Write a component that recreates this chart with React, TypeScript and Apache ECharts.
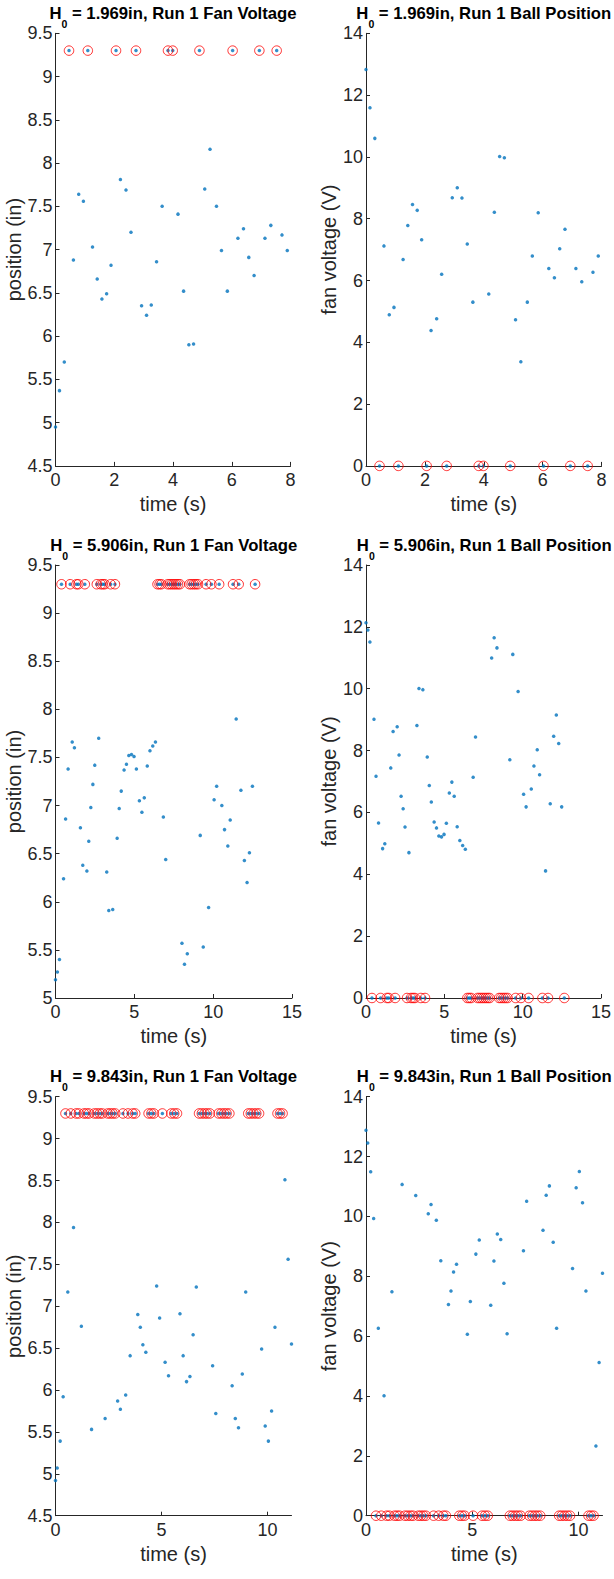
import React, { useEffect, useRef } from "react";
import * as echarts from "echarts";

// ---------------- DATA ----------------
// Position value recorded while the fan is off (circled in red)
const SAT_POSITION = 9.3;

// Row 1: H0 = 1.969 in
const time1 = [0, 0.135, 0.3, 0.46, 0.61, 0.79, 0.95, 1.1, 1.26, 1.42, 1.58, 1.74, 1.89, 2.06, 2.21, 2.4, 2.57, 2.74, 2.93, 3.1, 3.26, 3.44, 3.63, 3.83, 3.99, 4.17, 4.36, 4.54, 4.7, 4.9, 5.08, 5.26, 5.48, 5.65, 5.85, 6.03, 6.21, 6.4, 6.58, 6.76, 6.94, 7.13, 7.33, 7.53, 7.71, 7.89];
const position1 = [4.95, 5.37, 5.7, 9.3, 6.88, 7.64, 7.56, 9.3, 7.03, 6.66, 6.43, 6.49, 6.82, 9.3, 7.81, 7.69, 7.2, 9.3, 6.35, 6.24, 6.36, 6.86, 7.5, 9.3, 9.3, 7.41, 6.52, 5.9, 5.91, 9.3, 7.7, 8.16, 7.5, 6.99, 6.52, 9.3, 7.13, 7.24, 6.91, 6.7, 9.3, 7.13, 7.28, 9.3, 7.17, 6.99];
const voltage1 = [12.83, 11.59, 10.6, 0, 7.12, 4.89, 5.13, 0, 6.68, 7.78, 8.46, 8.27, 7.32, 0, 4.38, 4.76, 6.2, 0, 8.68, 9.0, 8.67, 7.18, 5.3, 0, 0, 5.56, 8.21, 10.01, 9.97, 0, 4.73, 3.37, 5.3, 6.79, 8.19, 0, 6.39, 6.09, 7.03, 7.66, 0, 6.39, 5.96, 0, 6.27, 6.79];

// Row 2: H0 = 5.906 in
const time2 = [0, 0.12, 0.25, 0.38, 0.51, 0.64, 0.8, 0.93, 1.06, 1.2, 1.33, 1.45, 1.58, 1.73, 1.86, 1.99, 2.11, 2.24, 2.37, 2.49, 2.62, 2.74, 2.87, 3.0, 3.12, 3.25, 3.38, 3.5, 3.63, 3.77, 3.91, 4.04, 4.17, 4.35, 4.5, 4.65, 4.82, 4.98, 5.13, 5.32, 5.48, 5.63, 5.82, 5.99, 6.17, 6.34, 6.47, 6.6, 6.72, 6.84, 6.99, 7.12, 7.25, 7.38, 7.51, 7.64, 7.77, 7.89, 8.02, 8.18, 8.36, 8.5, 8.63, 8.77, 8.9, 9.04, 9.18, 9.37, 9.55, 9.71, 9.89, 10.06, 10.22, 10.38, 10.55, 10.72, 10.93, 11.08, 11.26, 11.46, 11.62, 11.76, 11.98, 12.15, 12.3, 12.49, 12.66];
const position2 = [5.19, 5.27, 5.4, 9.3, 6.24, 6.86, 7.38, 9.3, 7.66, 7.6, 9.3, 9.3, 6.77, 6.38, 9.3, 6.32, 6.63, 6.98, 7.22, 7.42, 9.3, 7.7, 9.3, 9.3, 9.3, 6.31, 5.91, 9.3, 5.92, 9.3, 6.66, 6.97, 7.15, 7.37, 7.43, 7.52, 7.53, 7.51, 7.38, 7.05, 6.93, 7.08, 7.41, 7.57, 7.62, 7.66, 9.3, 9.3, 9.3, 6.88, 6.44, 9.3, 9.3, 9.3, 9.3, 9.3, 9.3, 9.3, 5.57, 5.35, 5.46, 9.3, 9.3, 9.3, 9.3, 9.3, 6.69, 5.53, 9.3, 5.94, 9.3, 7.06, 7.2, 9.3, 7.0, 6.75, 6.58, 6.85, 9.3, 7.9, 9.3, 7.16, 6.43, 6.2, 6.51, 7.2, 9.3];
const voltage2 = [12.13, 11.9, 11.51, 0, 9.01, 7.17, 5.66, 0, 4.83, 4.99, 0, 0, 7.44, 8.62, 0, 8.77, 7.86, 6.52, 6.12, 5.53, 0, 4.7, 0, 0, 0, 8.81, 10.01, 0, 9.97, 0, 7.79, 6.87, 6.34, 5.69, 5.5, 5.24, 5.21, 5.29, 5.65, 6.63, 6.98, 6.52, 5.54, 5.09, 4.93, 4.81, 0, 0, 0, 7.14, 8.44, 0, 0, 0, 0, 0, 0, 0, 10.99, 11.65, 11.32, 0, 0, 0, 0, 0, 7.7, 11.11, 0, 9.91, 0, 6.59, 6.18, 0, 6.76, 7.5, 8.03, 7.22, 0, 4.11, 0, 6.28, 8.46, 9.15, 8.23, 6.18, 0];

// Row 3: H0 = 9.843 in
const time3 = [0, 0.08, 0.22, 0.36, 0.47, 0.58, 0.72, 0.85, 0.97, 1.1, 1.22, 1.34, 1.46, 1.58, 1.7, 1.83, 1.96, 2.09, 2.21, 2.34, 2.46, 2.58, 2.7, 2.82, 2.93, 3.06, 3.18, 3.31, 3.42, 3.52, 3.64, 3.76, 3.88, 4.0, 4.12, 4.26, 4.39, 4.52, 4.64, 4.77, 4.91, 5.04, 5.17, 5.33, 5.46, 5.6, 5.73, 5.87, 6.02, 6.18, 6.34, 6.49, 6.64, 6.77, 6.9, 7.03, 7.15, 7.28, 7.41, 7.56, 7.69, 7.82, 7.95, 8.07, 8.2, 8.33, 8.48, 8.63, 8.81, 8.97, 9.09, 9.21, 9.34, 9.47, 9.6, 9.72, 9.89, 10.04, 10.19, 10.35, 10.47, 10.59, 10.71, 10.82, 10.97, 11.13];
const position3 = [4.92, 5.07, 5.39, 5.92, 9.3, 7.17, 9.3, 7.94, 9.3, 9.3, 6.76, 9.3, 9.3, 9.3, 5.53, 9.3, 9.3, 9.3, 9.3, 5.66, 9.3, 9.3, 9.3, 9.3, 5.87, 5.77, 9.3, 5.94, 9.3, 6.41, 9.3, 9.3, 6.9, 6.75, 6.54, 6.45, 9.3, 9.3, 9.3, 7.24, 6.86, 9.3, 6.33, 6.17, 9.3, 9.3, 9.3, 6.91, 6.41, 6.1, 6.16, 6.66, 7.23, 9.3, 9.3, 9.3, 9.3, 9.3, 6.29, 5.72, 9.3, 9.3, 9.3, 9.3, 9.3, 6.05, 5.66, 5.55, 6.19, 7.17, 9.3, 9.3, 9.3, 9.3, 9.3, 6.49, 5.57, 5.39, 5.75, 6.75, 9.3, 9.3, 9.3, 8.51, 7.56, 6.55];
const voltage3 = [12.88, 12.45, 11.49, 9.93, 0, 6.26, 0, 4.01, 0, 0, 7.48, 0, 0, 0, 11.07, 0, 0, 0, 0, 10.7, 0, 0, 0, 0, 10.09, 10.4, 0, 9.87, 0, 8.52, 0, 0, 7.06, 7.51, 8.14, 8.4, 0, 0, 0, 6.06, 7.16, 0, 8.74, 9.21, 0, 0, 0, 7.03, 8.51, 9.41, 9.23, 7.77, 6.08, 0, 0, 0, 0, 0, 8.85, 10.51, 0, 0, 0, 0, 0, 9.54, 10.71, 11.02, 9.14, 6.26, 0, 0, 0, 0, 0, 8.26, 10.96, 11.5, 10.46, 7.51, 0, 0, 0, 2.33, 5.12, 8.1];

const heights = ["1.969", "5.906", "9.843"];
const timeMax = [8, 15, 11.13];
const timeStep = [2, 5, 5];
const timeTicks = [[0, 2, 4, 6, 8], [0, 5, 10, 15], [0, 5, 10]];
const positionMin = [4.5, 5, 4.5];
const positionMax = 9.5;
const voltageMin = 0;
const voltageMax = 14;

// ---------------- STYLE / LAYOUT ----------------
const FONT = "'Liberation Sans', Arial, Helvetica, sans-serif";
const AX = "#262626";
const BLUE = "#0072BD";
const RED = "#FF0000";
const TICK_FS = 18;
const NAME_FS = 20;
const TITLE_FS = 16.7;

const rowLayout = [
  { top: 33.3, height: 432.6, widths: [235, 235.5] },
  { top: 565, height: 433, widths: [236.5, 236.5] },
  { top: 1096.7, height: 419, widths: [236, 236.5] },
];
const colLeft = [55.5, 366];

const rows = [
  { t: time1, pos: position1, volt: voltage1 },
  { t: time2, pos: position2, volt: voltage2 },
  { t: time3, pos: position3, volt: voltage3 },
];

function buildOption() {
  const grid: any[] = [];
  const xAxis: any[] = [];
  const yAxis: any[] = [];
  const series: any[] = [];
  const graphic: any[] = [];

  rows.forEach((row, r) => {
    for (let c = 0; c < 2; c++) {
      const idx = r * 2 + c;
      const L = rowLayout[r];
      const left = colLeft[c];
      const width = L.widths[c];
      grid.push({ left, top: L.top, width, height: L.height, containLabel: false });

      xAxis.push({
        type: "value",
        gridIndex: idx,
        min: 0,
        max: timeMax[r],
        interval: timeStep[r],
        name: "time (s)",
        nameLocation: "middle",
        nameGap: 28,
        nameTextStyle: { fontSize: NAME_FS, color: AX, fontFamily: FONT },
        axisLine: { show: true, onZero: false, lineStyle: { color: AX, width: 1 } },
        axisTick: { show: true, inside: true, length: 4, lineStyle: { color: AX }, customValues: timeTicks[r] },
        axisLabel: { fontSize: TICK_FS, color: AX, fontFamily: FONT, margin: 5, customValues: timeTicks[r] },
        splitLine: { show: false },
      });

      const isPos = c === 0;
      yAxis.push({
        type: "value",
        gridIndex: idx,
        min: isPos ? positionMin[r] : voltageMin,
        max: isPos ? positionMax : voltageMax,
        interval: isPos ? 0.5 : 2,
        name: isPos ? "position (in)" : "fan voltage (V)",
        nameLocation: "middle",
        nameGap: isPos ? 26 : 25,
        nameTextStyle: { fontSize: NAME_FS, color: AX, fontFamily: FONT },
        axisLine: { show: true, onZero: false, lineStyle: { color: AX, width: 1 } },
        axisTick: { show: true, inside: true, length: 4, lineStyle: { color: AX } },
        axisLabel: { fontSize: TICK_FS, color: AX, fontFamily: FONT, margin: 3 },
        splitLine: { show: false },
      });

      const vals = isPos ? row.pos : row.volt;
      series.push({
        type: "scatter",
        xAxisIndex: idx,
        yAxisIndex: idx,
        symbol: "circle",
        symbolSize: 3.5,
        clip: false,
        itemStyle: { color: BLUE },
        data: row.t.map((x, i) => [x, vals[i]]),
        z: 3,
      });
      series.push({
        type: "scatter",
        xAxisIndex: idx,
        yAxisIndex: idx,
        symbol: "circle",
        symbolSize: 9.5,
        clip: false,
        itemStyle: { color: "rgba(0,0,0,0)", borderColor: RED, borderWidth: 1 },
        data: row.t
          .map((x, i) => [x, isPos ? SAT_POSITION : 0, row.volt[i]])
          .filter((d) => d[2] === 0)
          .map((d) => [d[0], d[1]]),
        z: 4,
      });

      const kind = isPos ? "Fan Voltage" : "Ball Position";
      graphic.push({
        type: "text",
        x: left + width / 2,
        y: L.top - 28.5,
        style: {
          text: `{h|H}{s|0}{h| = ${heights[r]}in, Run 1 ${kind}}`,
          align: "center",
          verticalAlign: "top",
          fill: "#000",
          fontFamily: FONT,
          rich: {
            h: { fontSize: TITLE_FS, fontWeight: "bold", fontFamily: FONT, fill: "#000", color: "#000", lineHeight: 17, verticalAlign: "top" },
            s: { fontSize: 10.5, fontWeight: "bold", fontFamily: FONT, fill: "#000", color: "#000", height: 10, lineHeight: 24, padding: [14, 0, 0, 0], verticalAlign: "top" },
          },
        },
      });
    }
  });

  return {
    animation: false,
    backgroundColor: "#fff",
    textStyle: { fontFamily: FONT },
    grid,
    xAxis,
    yAxis,
    series,
    graphic,
  };
}

export default function App() {
  const ref = useRef<HTMLDivElement>(null);
  useEffect(() => {
    if (!ref.current) return;
    const chart = echarts.init(ref.current, null, { renderer: "svg" });
    chart.setOption(buildOption() as any);
    return () => chart.dispose();
  }, []);
  return (
    <div
      ref={ref}
      style={{ position: "absolute", left: 0, top: 0, width: 614, height: 1579, background: "#fff" }}
    />
  );
}
